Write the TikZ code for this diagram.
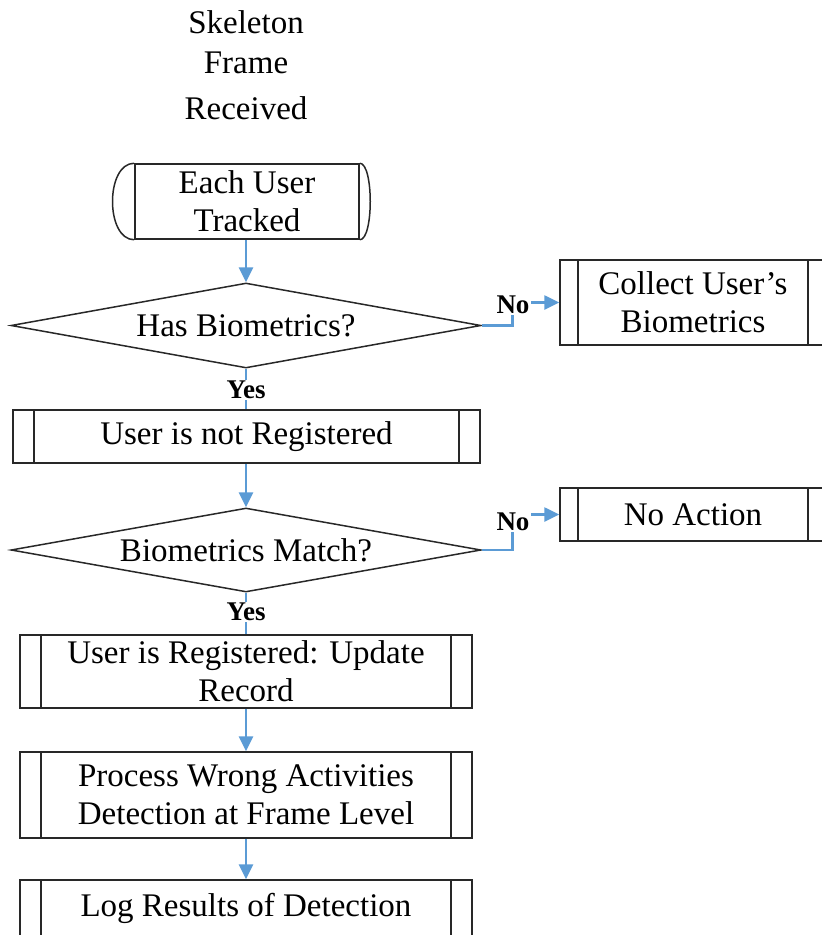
\documentclass[tikz,border=0pt]{standalone}
\usepackage{fontspec}
\setmainfont{Liberation Serif}
\usetikzlibrary{shapes.geometric,arrows.meta}
\definecolor{flowblue}{RGB}{91,155,213}
\definecolor{edgegray}{RGB}{40,40,40}

\begin{document}
\begin{tikzpicture}[x=1pt,y=-1pt,
  every node/.style={font=\fontsize{33}{38}\selectfont, text=black},
  outline/.style={draw=edgegray, line width=1.5pt},
  procbox/.style={outline, rectangle, inner sep=0pt, align=center,
    path picture={
      \draw[edgegray, line width=1.5pt]
        ([xshift=#1]path picture bounding box.north west) -- ([xshift=#1]path picture bounding box.south west)
        ([xshift=-#1]path picture bounding box.north east) -- ([xshift=-#1]path picture bounding box.south east);
    }},
  procbox/.default=21pt,
  decision/.style={outline, diamond, aspect=5.5, inner sep=0pt,
    minimum width=470pt, minimum height=85pt},
  flow/.style={draw=flowblue, line width=2.6pt},
  flowarrow/.style={flow, -{Triangle[length=15pt,width=14pt]}},
  answer/.style={font=\fontsize{27}{30}\selectfont\bfseries, fill=white, inner sep=1pt}
]
\useasboundingbox (0,0) rectangle (822,935);

% heading
\node[anchor=north, align=center, inner sep=0pt] (heading) at (246,10.5)
  {Skeleton\\[2pt]Frame\\[8pt]Received};

% terminal with rounded ends
\node[outline, rectangle, inner sep=0pt, align=center,
      minimum width=224pt, minimum height=75pt] (track) at (247,201.5) {Each User\\Tracked};
\draw[outline] (track.north west) .. controls +(-29,0) and +(-29,0) .. (track.south west);
\draw[outline] (track.north east) .. controls +(14,0) and +(14,0) .. (track.south east);

% first decision
\node[decision] (hasbio) at (246,325.5) {Has Biometrics?};
\node[procbox=18pt, minimum width=266pt, minimum height=85pt] (collect) at (693,302.5)
  {Collect User's\\Biometrics};

\node[procbox, minimum width=467pt, minimum height=53pt] (notreg) at (246.5,436.5)
  {User is not Registered};

% second decision
\node[decision, minimum height=84pt] (match) at (246,550) {Biometrics Match?};
\node[procbox=18pt, minimum width=266pt, minimum height=53pt] (noaction) at (693,514.5)
  {No Action};

\node[procbox, minimum width=452pt, minimum height=73pt] (update) at (246,671.5)
  {User is Registered: Update\\Record};
\node[procbox, minimum width=452pt, minimum height=86pt] (process) at (246,795)
  {Process Wrong Activities\\Detection at Frame Level};
\node[procbox, minimum width=452pt, minimum height=56pt] (logres) at (246,908)
  {Log Results of Detection};

% connectors
\draw[flowarrow] (track.south -| hasbio.north) -- (hasbio.north);
\draw[flowarrow] (hasbio.east) -- ++(31,0) |- (collect.west);
\draw[flow] (hasbio.south) -- (notreg.north -| hasbio.south);
\draw[flowarrow] (notreg.south -| match.north) -- (match.north);
\draw[flowarrow] (match.east) -- ++(31,0) |- (noaction.west);
\draw[flow] (match.south) -- (update.north);
\draw[flowarrow] (update.south) -- (process.north);
\draw[flowarrow] (process.south) -- (logres.north);

% branch labels
\node[answer] (no1) at (513,305) {No};
\node[answer] (yes1) at (246,390) {Yes};
\node[answer] (no2) at (513,522) {No};
\node[answer] (yes2) at (246,612) {Yes};
\end{tikzpicture}
\end{document}
